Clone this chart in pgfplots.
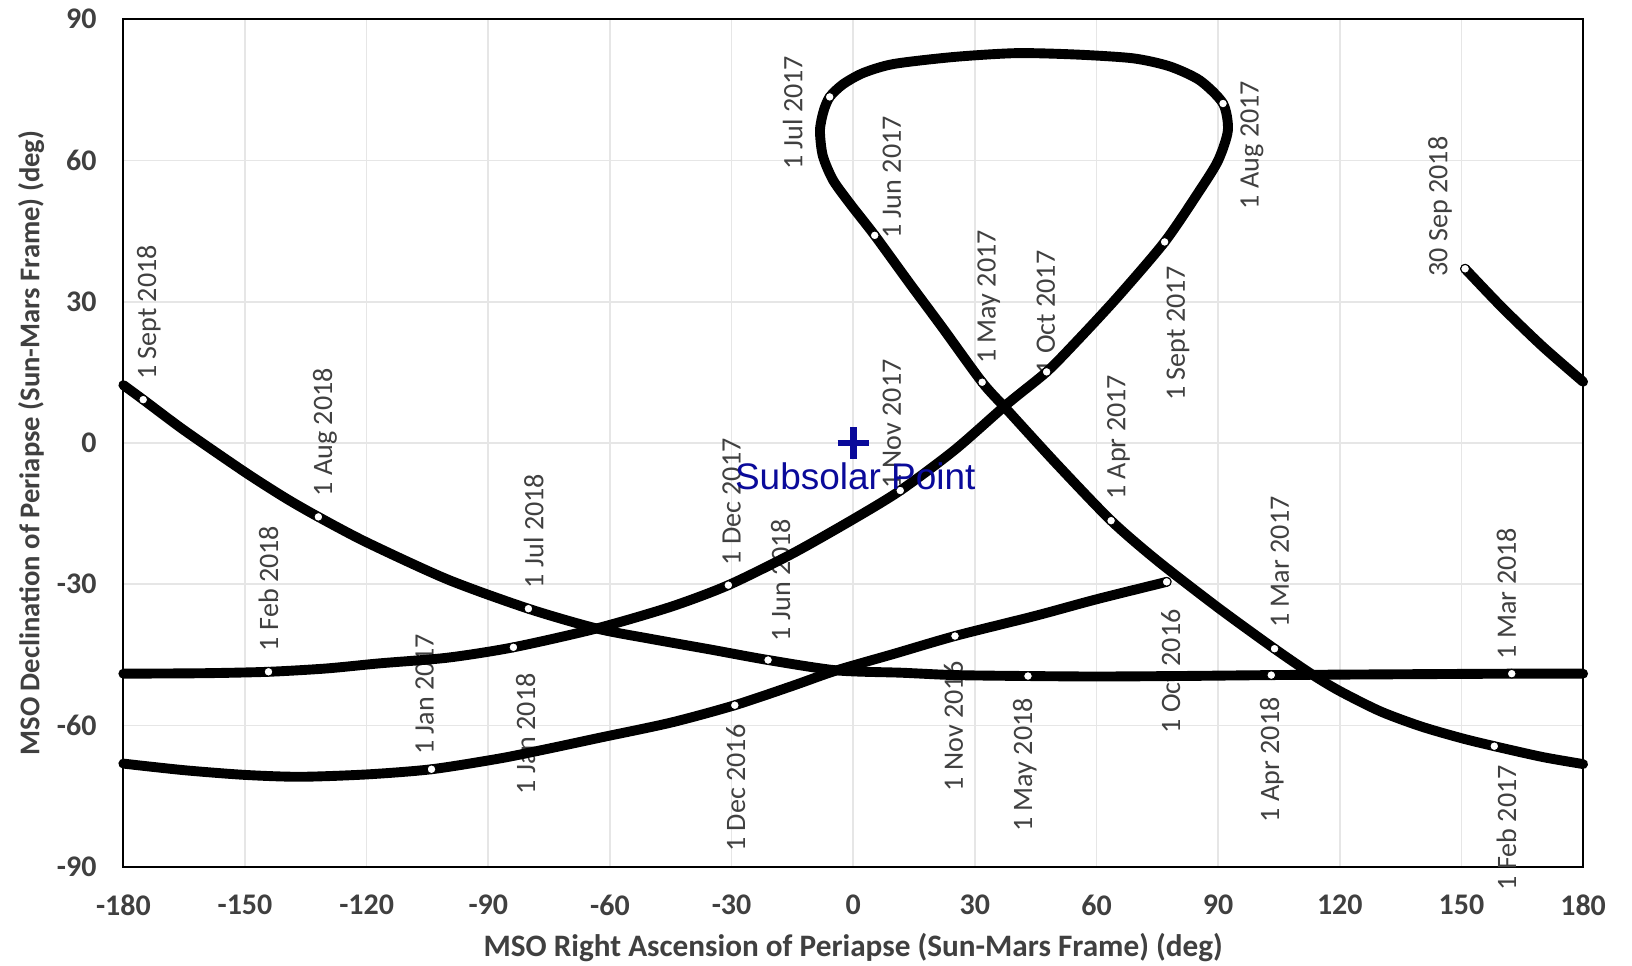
\documentclass[border=0pt]{standalone}
\usepackage{fontspec}
\setmainfont{Carlito}
\newfontfamily\arialfont{Liberation Sans}
\usepackage{pgfplots}
\pgfplotsset{compat=1.18}
\definecolor{txtgray}{HTML}{404040}
\definecolor{gridgray}{HTML}{E6E6E6}
\definecolor{subblue}{HTML}{0A0A9A}
\tikzset{dl/.style={rotate=90, font=\fontsize{10.8}{12}\selectfont, text=txtgray, inner sep=0pt}}
\begin{document}
\begin{tikzpicture}
\begin{axis}[
 set layers,
 scale only axis, width=561pt, height=325.7pt,
 xmin=-180, xmax=180, ymin=-90, ymax=90,
 xtick={-180,-150,...,180}, ytick={-90,-60,...,90},
 major tick length=0pt,
 grid=major, grid style={gridgray, line width=0.6pt},
 axis line style={black, line width=0.7pt},
 /pgf/number format/assume math mode=true,
 ticklabel style={font=\bfseries\fontsize{11.5}{13}\selectfont, text=txtgray},
 xticklabel style={yshift=-7.3pt},
 yticklabel style={xshift=-6.8pt},
 xlabel={MSO Right Ascension of Periapse (Sun-Mars Frame) (deg)},
 ylabel={MSO Declination of Periapse (Sun-Mars Frame) (deg)},
 xlabel style={font=\bfseries\fontsize{12}{14}\selectfont, text=txtgray, at={(axis description cs:0.5,0)}, anchor=center, yshift=-30.9pt},
 ylabel style={font=\bfseries\fontsize{11}{13}\selectfont, text=txtgray, at={(axis description cs:0,0.5)}, anchor=center, yshift=35.4pt},
 clip=false,
 curve/.style={black, line width=3.8pt, smooth, tension=0.45, line cap=round, line join=round},
]
% Segment A: 1 Oct 2016 -> left edge
\addplot[curve] coordinates {
(77.3,-29.5) (60,-33.2) (45,-36.7) (25.1,-41.0) (10,-44.8) (-4.1,-48.3) (-15,-51.6) (-29.2,-55.7)
(-45,-59.4) (-62.5,-62.6) (-75,-64.9) (-87.1,-67.0) (-104,-69.3) (-120,-70.4) (-136.4,-70.9)
(-150,-70.5) (-165,-69.5) (-180,-68.1)};
% Segment B: right edge -> loop -> left edge
\addplot[curve] coordinates {
(180,-68.2) (170,-66.7) (158.1,-64.4) (150,-62.7) (140,-60.2) (130,-57.0) (120,-52.7) (113.4,-49.3)
(103.9,-43.7) (90,-35.0) (75,-25.0) (63.6,-16.5) (50,-4.3) (38,7) (31.8,12.9) (22,24.5)
(14,33.8) (5.3,44.1) (-0.5,50.5) (-4.95,55.8) (-7.5,61) (-8.2,66.4) (-7.3,70.5) (-5.8,73.5)
(-2.5,76.2) (2.5,78.6) (10,80.5) (25,82.0) (40.3,82.8) (55,82.5) (69,81.7) (78,80.0) (85.5,77.0)
(91.2,72.1) (92.4,66.4) (90,60) (85.5,53.7) (76.8,42.7) (65,30.8) (55,21.5) (47.7,15.1) (38,8.3)
(25,-1.5) (11.6,-10.1) (0,-16.2) (-15,-23.5) (-30.8,-30.2) (-45,-34.8) (-63.3,-39.4)
(-83.8,-43.4) (-100,-45.6) (-116.7,-46.8) (-130,-47.9) (-144.2,-48.6) (-160,-48.9) (-180,-49.0)};
% Segment C: right edge -> left edge
\addplot[curve] coordinates {
(180,-49.0) (162.4,-49.0) (140,-49.1) (120,-49.2) (103.1,-49.3) (80,-49.5) (60,-49.6) (43.1,-49.5)
(25,-49.3) (12,-48.8) (-4.1,-48.3) (-21,-46.1) (-35,-43.9) (-50,-41.6) (-63.3,-39.4) (-80.1,-35.2)
(-100,-29.0) (-120,-21.1) (-131.9,-15.7) (-140,-11.7) (-150,-6.2) (-165,2.7) (-175.1,9.2) (-180,12.3)};
% Segment D: right edge -> 30 Sep 2018
\addplot[curve] coordinates {(180,13) (170,20.5) (160,28.8) (150.9,37.0)};
% date markers
\addplot[only marks, mark=*, mark size=1.7pt, mark options={fill=white, draw=none}] coordinates {
(77.3,-29.5) (25.1,-41.0) (-29.2,-55.7) (-104,-69.3) (158.1,-64.4) (103.9,-43.7) (63.6,-16.5)
(31.8,12.9) (5.3,44.1) (-5.8,73.5) (91.2,72.1) (76.8,42.7) (47.7,15.1) (11.6,-10.1) (-30.8,-30.2)
(-83.8,-43.4) (-144.2,-48.6) (162.4,-49.0) (103.1,-49.3) (43.1,-49.5) (-21,-46.1) (-80.1,-35.2)
(-131.9,-15.7) (-175.1,9.2) (150.9,37.0)};
% subsolar point
\addplot[only marks, mark=+, mark size=6pt, mark options={line width=2.6pt}, color=subblue] coordinates {(0,0)};
\begin{pgfonlayer}{axis tick labels}
\node[dl] at (axis cs:-173.7,27.7) {1 Sept 2018};
\node[dl] at (axis cs:-130.3,2.3) {1 Aug 2018};
\node[dl] at (axis cs:-144.2,-30.9) {1 Feb 2018};
\node[dl] at (axis cs:-105.7,-53.4) {1 Jan 2017};
\node[dl] at (axis cs:-78.8,-18.7) {1 Jul 2018};
\node[dl] at (axis cs:-80.8,-61.8) {1 Jan 2018};
\node[dl] at (axis cs:-30,-12.5) {1 Dec 2017};
\node[dl] at (axis cs:-17.9,-29.1) {1 Jun 2018};
\node[dl] at (axis cs:-29,-73.3) {1 Dec 2016};
\node[dl] at (axis cs:-14.9,70.1) {1 Jul 2017};
\node[dl] at (axis cs:9.5,56.4) {1 Jun 2017};
\node[dl] at (axis cs:9.5,4.0) {1 Nov 2017};
\node[dl] at (axis cs:33.4,31.0) {1 May 2017};
\node[dl] at (axis cs:47.5,27.7) {1 Oct 2017};
\node[dl] at (axis cs:65.4,1.2) {1 Apr 2017};
\node[dl] at (axis cs:80.1,23.3) {1 Sept 2017};
\node[dl] at (axis cs:98.3,63.3) {1 Aug 2017};
\node[dl] at (axis cs:144.7,50.2) {30 Sep 2018};
\node[dl] at (axis cs:24.7,-60.2) {1 Nov 2016};
\node[dl] at (axis cs:42.3,-68.4) {1 May 2018};
\node[dl] at (axis cs:78.3,-48.5) {1 Oct 2016};
\node[dl] at (axis cs:103.2,-67.3) {1 Apr 2018};
\node[dl] at (axis cs:105.2,-25.3) {1 Mar 2017};
\node[dl] at (axis cs:161.1,-32) {1 Mar 2018};
\node[dl] at (axis cs:161.1,-81.7) {1 Feb 2017};
\end{pgfonlayer}
\begin{pgfonlayer}{axis foreground}
\node[font=\arialfont\fontsize{14.2}{16}\selectfont, text=subblue, inner sep=0pt] at (axis cs:0.5,-7.0) {Subsolar Point};
\end{pgfonlayer}
\end{axis}
\pgfresetboundingbox
\path[use as bounding box] ([xshift=-47.4pt,yshift=-38.1pt]current axis.south west) rectangle ([xshift=18.8pt,yshift=7.4pt]current axis.north east);
\end{tikzpicture}
\end{document}
